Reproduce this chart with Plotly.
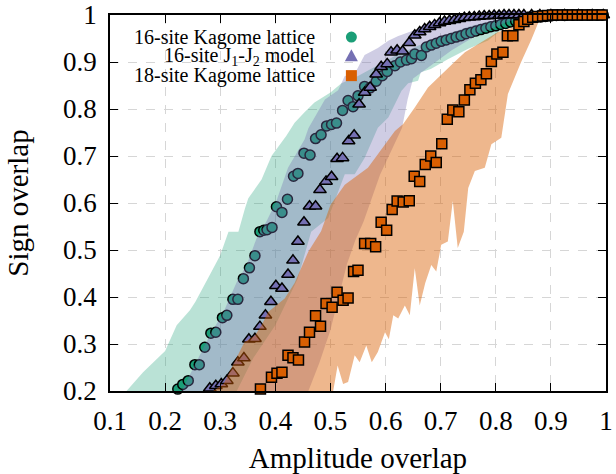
import plotly.graph_objects as go

# ---------------- data ----------------
kag16_x = [0.223, 0.232, 0.242, 0.254, 0.262, 0.272, 0.283, 0.292, 0.304, 0.312, 0.323, 0.332,
           0.342, 0.353, 0.363, 0.372, 0.379, 0.385, 0.394, 0.402, 0.412, 0.422, 0.433, 0.441,
           0.452, 0.463, 0.473, 0.483, 0.493, 0.502, 0.511, 0.522, 0.532, 0.541, 0.550, 0.562,
           0.572, 0.583, 0.594, 0.603, 0.617, 0.627, 0.638, 0.647, 0.653, 0.665, 0.674, 0.683,
           0.692, 0.701, 0.710, 0.719, 0.728, 0.737, 0.746, 0.755, 0.764, 0.773, 0.782, 0.791,
           0.800, 0.809, 0.818, 0.827, 0.836, 0.845, 0.854, 0.863, 0.872, 0.881, 0.890, 0.899,
           0.910, 0.925, 0.940, 0.955, 0.970, 0.985, 0.995]
kag16_y = [0.204, 0.214, 0.222, 0.256, 0.256, 0.293, 0.323, 0.325, 0.356, 0.361, 0.395, 0.395,
           0.439, 0.462, 0.488, 0.539, 0.542, 0.543, 0.548, 0.592, 0.580, 0.608, 0.657, 0.663,
           0.706, 0.702, 0.737, 0.745, 0.764, 0.767, 0.770, 0.797, 0.818, 0.805, 0.828, 0.848,
           0.845, 0.859, 0.871, 0.880, 0.892, 0.900, 0.904, 0.907, 0.917, 0.914, 0.932, 0.936,
           0.940, 0.944, 0.947, 0.950, 0.953, 0.956, 0.960, 0.963, 0.966, 0.969, 0.972, 0.975,
           0.977, 0.980, 0.982, 0.985, 0.987, 0.989, 0.991, 0.993, 0.995, 0.996, 0.997, 0.998,
           0.999, 0.999, 1.000, 1.000, 1.000, 1.000, 1.000]

j1j2_x = [0.281, 0.292, 0.302, 0.312, 0.323, 0.332, 0.343, 0.352, 0.363, 0.372, 0.382, 0.392,
          0.401, 0.412, 0.423, 0.432, 0.441, 0.452, 0.462, 0.473, 0.481, 0.492, 0.502, 0.512,
          0.522, 0.533, 0.543, 0.552, 0.562, 0.572, 0.583, 0.592, 0.603, 0.610, 0.621, 0.631,
          0.643, 0.653, 0.662, 0.671, 0.680, 0.689, 0.698, 0.707, 0.716, 0.725, 0.734, 0.743,
          0.752, 0.761, 0.770, 0.779, 0.788, 0.797, 0.806, 0.815, 0.824, 0.833, 0.842, 0.851,
          0.865, 0.880, 0.900, 0.925, 0.950, 0.975, 0.995]
j1j2_y = [0.206, 0.211, 0.215, 0.222, 0.238, 0.261, 0.270, 0.310, 0.311, 0.337, 0.361, 0.390,
          0.424, 0.418, 0.448, 0.478, 0.518, 0.559, 0.593, 0.593, 0.628, 0.646, 0.656, 0.694,
          0.696, 0.732, 0.744, 0.810, 0.835, 0.846, 0.874, 0.890, 0.896, 0.921, 0.925, 0.923,
          0.941, 0.957, 0.964, 0.970, 0.975, 0.979, 0.983, 0.986, 0.988, 0.990, 0.992, 0.994,
          0.995, 0.996, 0.997, 0.998, 0.998, 0.999, 0.999, 1.000, 1.000, 1.000, 1.000, 1.000,
          1.000, 1.000, 1.000, 1.000, 1.000, 1.000, 1.000]

kag18_x = [0.373, 0.393, 0.403, 0.412, 0.423, 0.432, 0.442, 0.453, 0.462, 0.473, 0.482, 0.492,
           0.503, 0.512, 0.523, 0.532, 0.542, 0.550, 0.562, 0.573, 0.582, 0.592, 0.602, 0.612,
           0.621, 0.632, 0.643, 0.652, 0.662, 0.672, 0.682, 0.692, 0.702, 0.712, 0.722, 0.733,
           0.743, 0.753, 0.763, 0.773, 0.783, 0.792, 0.802, 0.813, 0.821, 0.831, 0.842, 0.851,
           0.858, 0.867, 0.876, 0.885, 0.894, 0.903, 0.912, 0.921, 0.930, 0.939, 0.948, 0.957,
           0.966, 0.975, 0.984, 0.993]
kag18_y = [0.204, 0.229, 0.238, 0.240, 0.276, 0.271, 0.266, 0.304, 0.325, 0.360, 0.338, 0.386,
           0.378, 0.410, 0.393, 0.398, 0.454, 0.457, 0.514, 0.514, 0.507, 0.559, 0.542, 0.586,
           0.604, 0.602, 0.605, 0.657, 0.646, 0.682, 0.700, 0.686, 0.726, 0.778, 0.798, 0.794,
           0.819, 0.841, 0.855, 0.862, 0.875, 0.901, 0.917, 0.921, 0.956, 0.956, 0.979, 0.986,
           0.991, 0.995, 0.997, 0.998, 0.999, 1.000, 1.000, 1.000, 1.000, 1.000, 1.000, 1.000,
           1.000, 1.000, 1.000, 1.000]

# band edges (upper edge left->right, lower edge left->right)
kag16_hi_x = [0.130, 0.160, 0.200, 0.212, 0.221, 0.245, 0.255, 0.281, 0.300, 0.315, 0.333, 0.345,
              0.351, 0.375, 0.393, 0.420, 0.435, 0.453, 0.471, 0.500, 0.520, 0.550, 0.580, 0.620,
              0.660, 0.700, 0.750, 0.800, 0.850, 1.000]
kag16_hi_y = [0.200, 0.240, 0.285, 0.318, 0.340, 0.372, 0.390, 0.447, 0.489, 0.539, 0.539, 0.589,
              0.610, 0.650, 0.700, 0.743, 0.771, 0.793, 0.814, 0.835, 0.855, 0.870, 0.890, 0.915,
              0.935, 0.955, 0.975, 0.990, 1.000, 1.000]
kag16_lo_x = [0.330, 0.360, 0.400, 0.441, 0.465, 0.496, 0.526, 0.544, 0.562, 0.586, 0.605, 0.629,
              0.641, 0.659, 0.664, 0.682, 0.713, 0.750, 0.786, 0.816, 0.850, 0.900, 1.000]
kag16_lo_y = [0.200, 0.270, 0.340, 0.440, 0.539, 0.568, 0.661, 0.661, 0.696, 0.760, 0.782, 0.839,
              0.855, 0.860, 0.878, 0.885, 0.906, 0.928, 0.946, 0.974, 0.990, 1.000, 1.000]

j1j2_hi_x = [0.230, 0.257, 0.281, 0.306, 0.330, 0.348, 0.366, 0.384, 0.402, 0.423, 0.453, 0.460,
             0.490, 0.514, 0.526, 0.544, 0.562, 0.586, 0.605, 0.622, 0.653, 0.700, 0.750, 0.800,
             1.000]
j1j2_hi_y = [0.200, 0.261, 0.318, 0.368, 0.432, 0.468, 0.525, 0.561, 0.604, 0.675, 0.735, 0.759,
             0.820, 0.840, 0.870, 0.875, 0.915, 0.930, 0.945, 0.955, 0.968, 0.985, 0.997, 1.000,
             1.000]
j1j2_lo_x = [0.460, 0.480, 0.500, 0.515, 0.530, 0.545, 0.560, 0.575, 0.590, 0.610, 0.630, 0.640,
             0.650, 0.680, 0.720, 0.770, 0.820, 0.870, 1.000]
j1j2_lo_y = [0.200, 0.260, 0.330, 0.400, 0.470, 0.520, 0.560, 0.610, 0.660, 0.710, 0.760, 0.820,
             0.865, 0.890, 0.925, 0.960, 0.985, 1.000, 1.000]

kag18_hi_x = [0.287, 0.306, 0.332, 0.344, 0.363, 0.375, 0.387, 0.417, 0.435, 0.460, 0.483, 0.500,
              0.526, 0.550, 0.568, 0.590, 0.617, 0.632, 0.653, 0.677, 0.701, 0.725, 0.744, 0.773,
              0.804, 0.834, 0.864, 0.882, 0.900, 1.000]
kag18_hi_y = [0.200, 0.215, 0.276, 0.304, 0.318, 0.340, 0.368, 0.397, 0.430, 0.497, 0.540, 0.596,
              0.639, 0.660, 0.675, 0.710, 0.753, 0.768, 0.803, 0.846, 0.874, 0.900, 0.921, 0.942,
              0.964, 0.974, 0.989, 0.996, 1.000, 1.000]
kag18_lo_x = [0.505, 0.513, 0.523, 0.532, 0.544, 0.553, 0.565, 0.575, 0.586, 0.599, 0.606, 0.614,
              0.623, 0.635, 0.644, 0.653, 0.662, 0.672, 0.683, 0.692, 0.701, 0.713, 0.722, 0.731,
              0.742, 0.750, 0.762, 0.780, 0.792, 0.810, 0.822, 0.834, 0.846, 0.865, 0.880, 0.900,
              1.000]
kag18_lo_y = [0.200, 0.254, 0.215, 0.219, 0.276, 0.261, 0.297, 0.261, 0.283, 0.325, 0.310, 0.361,
              0.354, 0.382, 0.361, 0.461, 0.382, 0.430, 0.468, 0.454, 0.511, 0.518, 0.604, 0.504,
              0.539, 0.632, 0.668, 0.675, 0.725, 0.739, 0.832, 0.867, 0.900, 0.949, 0.992, 1.000,
              1.000]

x_ticks = [0.1, 0.2, 0.3, 0.4, 0.5, 0.6, 0.7, 0.8, 0.9, 1.0]
x_tick_text = ["0.1", "0.2", "0.3", "0.4", "0.5", "0.6", "0.7", "0.8", "0.9", "1"]
y_ticks = [0.2, 0.3, 0.4, 0.5, 0.6, 0.7, 0.8, 0.9, 1.0]
y_tick_text = ["0.2", "0.3", "0.4", "0.5", "0.6", "0.7", "0.8", "0.9", "1"]

labels = ["16-site Kagome lattice", "16-site J<sub>1</sub>-J<sub>2</sub> model", "18-site Kagome lattice"]

# ---------------- style ----------------
GREEN, PURPLE, ORANGE = "#1b9e77", "#7570b3", "#d95f02"
FONT = "Liberation Serif"


def rgba(hex_c, a):
    h = hex_c.lstrip("#")
    return f"rgba({int(h[0:2], 16)},{int(h[2:4], 16)},{int(h[4:6], 16)},{a})"


fig = go.Figure()

series = [
    (kag16_hi_x, kag16_hi_y, kag16_lo_x, kag16_lo_y, kag16_x, kag16_y, GREEN, 0.30, "circle", 10),
    (j1j2_hi_x, j1j2_hi_y, j1j2_lo_x, j1j2_lo_y, j1j2_x, j1j2_y, PURPLE, 0.35, "triangle-up", 11),
    (kag18_hi_x, kag18_hi_y, kag18_lo_x, kag18_lo_y, kag18_x, kag18_y, ORANGE, 0.45, "square", 10),
]

for hx, hy, lx, ly, px, py, col, alpha, sym, size in series:
    fig.add_trace(go.Scatter(
        x=list(hx) + list(lx)[::-1], y=list(hy) + list(ly)[::-1],
        mode="lines", fill="toself", fillcolor=rgba(col, alpha),
        line=dict(width=0), hoverinfo="skip", showlegend=False))
    fig.add_trace(go.Scatter(
        x=px, y=py, mode="markers", showlegend=False, cliponaxis=False,
        marker=dict(symbol=sym, size=size, color=col, line=dict(color="black", width=1.5))))

# legend (text right-aligned with marker on the right)
leg_y = [0.953, 0.912, 0.871]
for lab, yy in zip(labels, leg_y):
    fig.add_annotation(x=0.476, y=yy, xref="x", yref="y", text=lab, showarrow=False,
                       xanchor="right", yanchor="middle",
                       font=dict(family=FONT, size=20, color="black"))

fig.add_shape(type="circle", xref="x", yref="y", xsizemode="pixel", ysizemode="pixel",
              xanchor=0.538, yanchor=leg_y[0], x0=-5.5, x1=5.5, y0=-5.5, y1=5.5,
              fillcolor=GREEN, line=dict(width=0))
fig.add_shape(type="path", xref="x", yref="y", xsizemode="pixel", ysizemode="pixel",
              xanchor=0.538, yanchor=leg_y[1], path="M -6.5 -5 L 6.5 -5 L 0 7 Z",
              fillcolor=PURPLE, line=dict(width=0))
fig.add_shape(type="rect", xref="x", yref="y", xsizemode="pixel", ysizemode="pixel",
              xanchor=0.538, yanchor=leg_y[2], x0=-5.5, x1=5.5, y0=-5.5, y1=5.5,
              fillcolor=ORANGE, line=dict(width=0))

axis_common = dict(
    showline=True, linecolor="black", linewidth=1.5, mirror="allticks",
    ticks="inside", ticklen=8, tickwidth=1.2, tickcolor="black",
    showgrid=True, gridcolor="#d6d6d6", gridwidth=1, griddash="dash",
    zeroline=False, automargin=False,
    tickfont=dict(family=FONT, size=27, color="black"),
)

fig.update_xaxes(range=[0.1, 1.0], tickvals=x_ticks, ticktext=x_tick_text, ticklabelstandoff=5,
                 title=dict(text="Amplitude overlap", font=dict(family=FONT, size=29, color="black"),
                            standoff=18),
                 **axis_common)
fig.update_yaxes(range=[0.2, 1.0], tickvals=y_ticks, ticktext=y_tick_text, ticklabelstandoff=6,
                 title=dict(text="Sign overlap", font=dict(family=FONT, size=29, color="black"),
                            standoff=26),
                 **axis_common)

fig.update_layout(
    width=616, height=474,
    margin=dict(l=110, r=10, t=15, b=83),
    plot_bgcolor="white", paper_bgcolor="white",
    showlegend=False,
)

fig.write_html("out.html")
